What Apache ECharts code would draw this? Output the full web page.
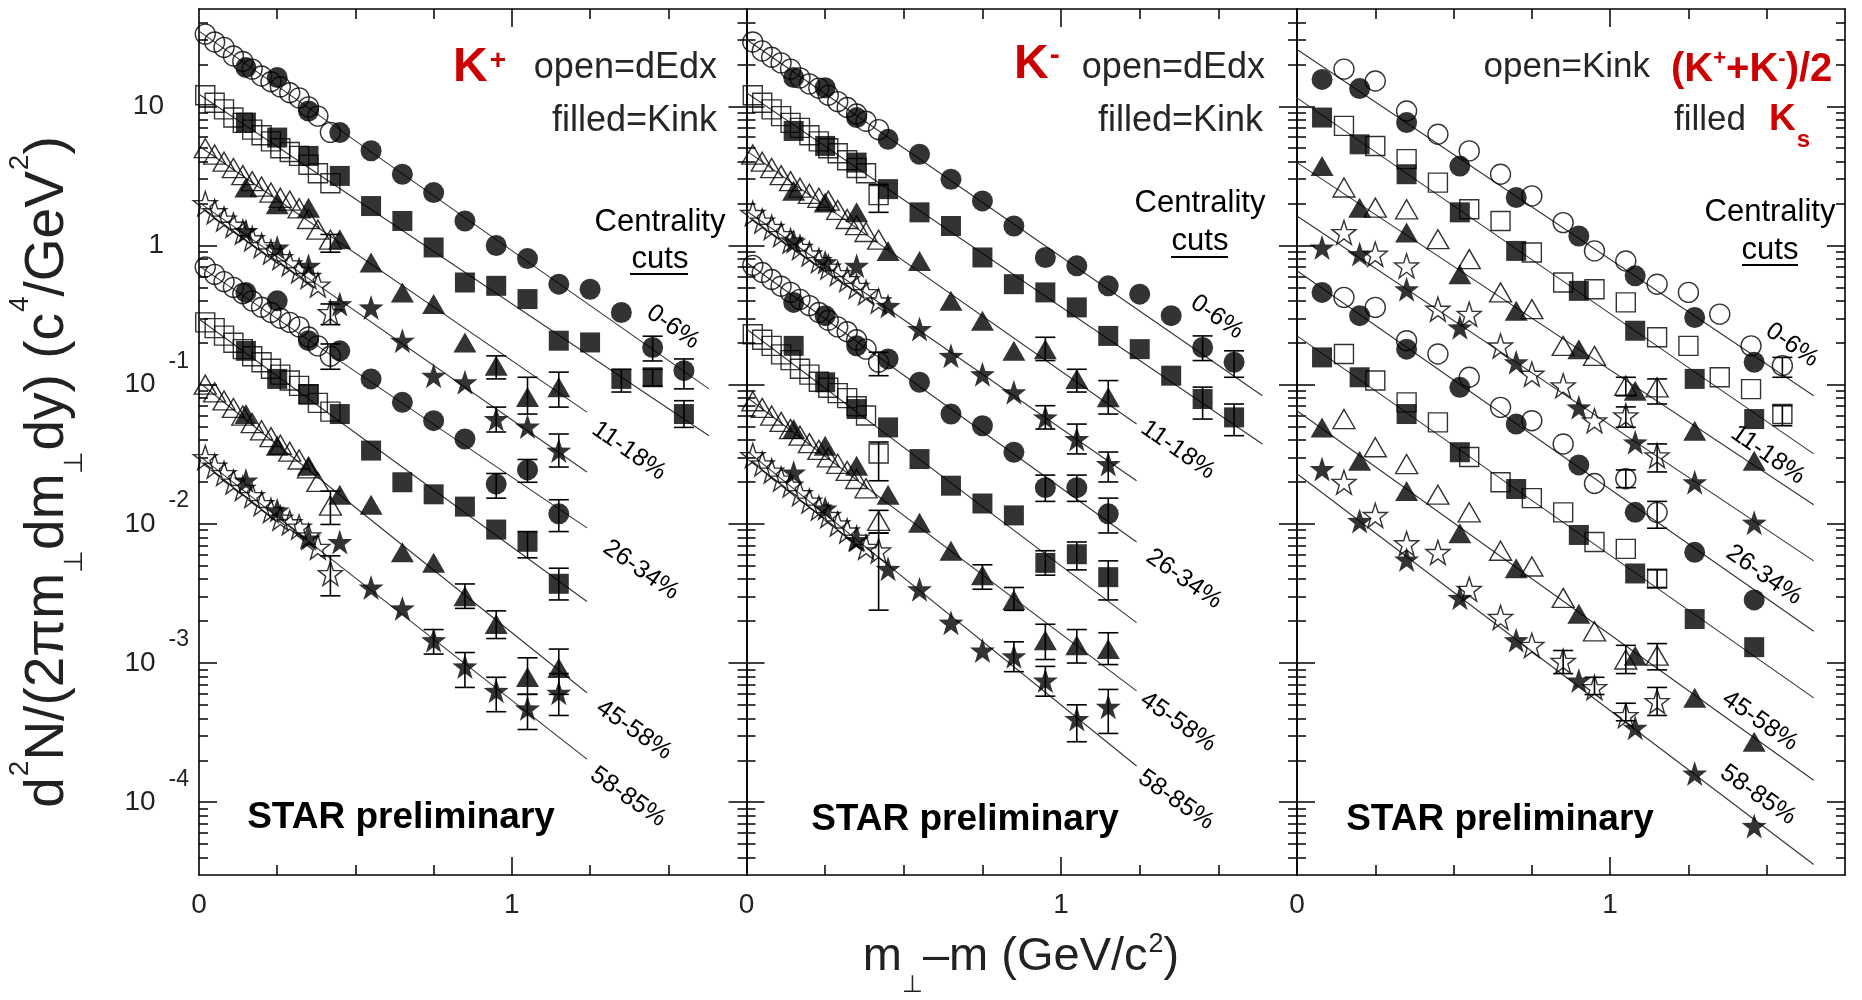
<!DOCTYPE html>
<html><head><meta charset="utf-8">
<script src="https://cdn.jsdelivr.net/npm/echarts@6/dist/echarts.min.js"></script>
<style>html,body{margin:0;padding:0;background:#fff}#c{width:1862px;height:1000px}</style>
</head><body><div id="c"></div><script>
// ---------- axis definitions ----------
const YMIN = 3e-5, YMAX = 50;
const Y_DECADES = [-4, -3, -2, -1, 0, 1];
const Y_LABEL_BASE = ['10', '10', '10', '10', '1', '10'];
const Y_LABEL_SUP = ['-4', '-3', '-2', '-1', '', ''];
const Y_MINOR_MULT = [2, 3, 4, 5, 6, 7, 8, 9];
const X_MINOR_TICKS = [0.25, 0.5, 0.75, 1.25, 1.5];
const X_MAJOR_TICKS = [1];
const X_LABELS = [0, 1];
const CENT_LABELS = ['0-6%', '11-18%', '26-34%', '45-58%', '58-85%'];

// ---------- x positions (GeV/c^2) ----------
const X_DEDX = [0.02, 0.05, 0.08, 0.11, 0.14, 0.17, 0.20, 0.23, 0.26, 0.29, 0.32, 0.35, 0.38, 0.42];
const X_KINK = [0.15, 0.25, 0.35, 0.45, 0.55, 0.65, 0.75, 0.85, 0.95, 1.05, 1.15, 1.25, 1.35, 1.45, 1.55];
const X_KS = [0.08, 0.20, 0.35, 0.52, 0.70, 0.90, 1.08, 1.27, 1.46];

// ---------- K+ panel ----------
const kplusDedx = [
 [33, 29, 26.5, 23, 21, 18.5, 16.5, 15, 13.8, 12.5, 11.5, 9.9, 8.5, 6.5],
 [12, 10.6, 9.5, 8.3, 7.6, 6.8, 6.2, 5.6, 5.0, 4.7, 4.4, 3.8, 3.3, 2.8],
 [5.0, 4.5, 4.0, 3.6, 3.2, 2.9, 2.65, 2.4, 2.2, 2.1, 1.85, 1.55, 1.3, 1.1],
 [2.0, 1.75, 1.55, 1.4, 1.25, 1.12, 1.0, 0.9, 0.82, 0.74, 0.66, 0.6, 0.52, 0.33],
 [0.70, 0.62, 0.55, 0.50, 0.45, 0.40, 0.36, 0.33, 0.30, 0.28, 0.26, 0.22, 0.19, 0.16],
 [0.28, 0.255, 0.225, 0.20, 0.18, 0.16, 0.145, 0.13, 0.118, 0.107, 0.098, 0.085, 0.074, 0.064],
 [0.10, 0.088, 0.077, 0.068, 0.060, 0.053, 0.047, 0.042, 0.037, 0.033, 0.029, 0.025, 0.020, 0.0135],
 [0.030, 0.026, 0.023, 0.020, 0.018, 0.016, 0.014, 0.0125, 0.011, 0.0102, 0.0095, 0.0082, 0.0068, 0.0044]
];
const kplusKink = [
 [19.0, 16.1, 9.25, 6.47, 4.79, 3.25, 2.40, 1.50, 1.00, 0.805, 0.527, 0.485, 0.330, 0.185, 0.126],
 [7.64, 5.96, 4.40, 3.16, 1.92, 1.50, 0.968, 0.542, 0.513, 0.412, 0.207, 0.201, 0.110, 0.113, 0.0615],
 [2.61, 1.98, 1.87, 1.11, 0.755, 0.460, 0.379, 0.201, 0.137, 0.0815, 0.0957],
 [1.27, 0.968, 0.714, 0.379, 0.359, 0.207, 0.116, 0.104, 0.0566, 0.050, 0.0336],
 [0.460, 0.400, 0.207, 0.175, 0.110, 0.0746, 0.0551, 0.0407, 0.0193, 0.0244, 0.0118],
 [0.175, 0.110, 0.0857, 0.0615, 0.0336, 0.0199, 0.0163, 0.0133, 0.0091, 0.00743, 0.00371],
 [0.0615, 0.0364, 0.0261, 0.0162, 0.0137, 0.00624, 0.00525, 0.00302, 0.00191, 0.000794, 0.00092],
 [0.0205, 0.0125, 0.00785, 0.00741, 0.00349, 0.00247, 0.00146, 0.000946, 0.000631, 0.000472, 0.000612]
];
const kplusFitStart = [34.7, 12.2, 5.19, 2.04, 0.714, 0.296, 0.104, 0.0309];
const kplusFitEndX = [1.63, 1.63, 1.24, 1.24, 1.24, 1.24, 1.24, 1.24];
const kplusFitEnd = [0.0933, 0.043, 0.0635, 0.0236, 0.00935, 0.00277, 0.000612, 0.000204];
const kplusErr = [
 [1.45, 0.148, 0.223], [1.55, 0.0933, 0.153],
 [1.35, 0.0885, 0.129], [1.45, 0.098, 0.129], [1.55, 0.0493, 0.0767],
 [0.95, 0.110, 0.161], [1.05, 0.0615, 0.113], [1.15, 0.069, 0.123],
 [0.95, 0.0457, 0.069], [1.15, 0.0256, 0.0442],
 [0.95, 0.0153, 0.023], [1.05, 0.0199, 0.029], [1.15, 0.0088, 0.0149],
 [1.05, 0.0057, 0.0088], [1.15, 0.00284, 0.0048],
 [0.85, 0.00247, 0.0037], [0.95, 0.0015, 0.00237], [1.05, 0.000596, 0.00109], [1.15, 0.000596, 0.00126],
 [0.75, 0.00116, 0.00174], [0.85, 0.000668, 0.00119], [0.95, 0.000447, 0.00079], [1.05, 0.000333, 0.000596], [1.15, 0.00042, 0.00084],
 [0.42, 0.895, 1.2], [0.42, 0.27, 0.38], [0.42, 0.129, 0.196], [0.42, 0.0099, 0.0172], [0.42, 0.00304, 0.00589]
];

// ---------- K- panel ----------
const kminusDedx = [
 [29, 25, 22.5, 20.5, 18.5, 16, 14.5, 13.5, 12, 10.8, 9.8, 8.8, 7.8, 6.8],
 [12, 10.6, 9.5, 8.5, 7.6, 7.0, 6.2, 5.6, 5.0, 4.6, 4.1, 3.6, 3.3, 2.3],
 [4.5, 4.0, 3.6, 3.2, 2.9, 2.6, 2.35, 2.2, 2.1, 1.8, 1.55, 1.4, 1.25, 1.1],
 [1.7, 1.5, 1.35, 1.2, 1.08, 0.97, 0.87, 0.78, 0.70, 0.63, 0.57, 0.51, 0.46, 0.40],
 [0.72, 0.64, 0.57, 0.51, 0.46, 0.41, 0.37, 0.33, 0.29, 0.26, 0.24, 0.21, 0.18, 0.145],
 [0.23, 0.21, 0.19, 0.165, 0.15, 0.13, 0.118, 0.105, 0.095, 0.087, 0.08, 0.07, 0.06, 0.032],
 [0.076, 0.068, 0.06, 0.054, 0.048, 0.043, 0.038, 0.034, 0.030, 0.027, 0.024, 0.021, 0.018, 0.0105],
 [0.031, 0.027, 0.024, 0.021, 0.019, 0.0165, 0.0146, 0.013, 0.0115, 0.010, 0.0089, 0.0079, 0.0068, 0.0064]
];
const kminusKink = [
 [16.1, 13.6, 8.30, 5.79, 4.52, 2.99, 2.09, 1.38, 0.820, 0.714, 0.513, 0.447, 0.313, 0.185, 0.145],
 [6.65, 5.19, 3.94, 2.54, 1.73, 1.38, 0.820, 0.527, 0.460, 0.359, 0.224, 0.180, 0.116, 0.0789, 0.0582],
 [2.47, 2.04, 1.73, 0.914, 0.774, 0.400, 0.288, 0.175, 0.180, 0.110, 0.0811],
 [1.07, 0.759, 0.714, 0.368, 0.251, 0.161, 0.119, 0.0881, 0.0582, 0.0407, 0.0269],
 [0.390, 0.313, 0.190, 0.153, 0.104, 0.0615, 0.0507, 0.0327, 0.0182, 0.0182, 0.0118],
 [0.190, 0.104, 0.0668, 0.0493, 0.0292, 0.0188, 0.0140, 0.0115, 0.00524, 0.00605, 0.00414],
 [0.048, 0.0364, 0.0261, 0.0162, 0.0102, 0.00641, 0.00428, 0.00284, 0.00146, 0.00134, 0.00126],
 [0.0234, 0.0129, 0.00766, 0.00475, 0.00339, 0.00195, 0.00123, 0.00112, 0.00075, 0.000396, 0.000485]
];
const kminusFitStart = [30.2, 12.5, 4.78, 1.77, 0.755, 0.251, 0.0815, 0.0336];
const kminusFitEndX = [1.64, 1.64, 1.24, 1.24, 1.24, 1.24, 1.24, 1.24];
const kminusFitEnd = [0.0832, 0.0375, 0.0521, 0.0204, 0.00741, 0.00195, 0.000631, 0.000182];
const kminusErr = [
 [1.45, 0.149, 0.224], [1.55, 0.113, 0.175],
 [1.45, 0.0566, 0.096], [1.55, 0.043, 0.0726],
 [0.95, 0.149, 0.219], [1.05, 0.0885, 0.129], [1.15, 0.0615, 0.107],
 [0.95, 0.048, 0.0706], [1.05, 0.0318, 0.0521], [1.15, 0.02, 0.0328],
 [0.95, 0.0145, 0.0224], [1.05, 0.0145, 0.0224], [1.15, 0.0086, 0.0153],
 [0.95, 0.00428, 0.00641], [1.05, 0.00467, 0.00741], [1.15, 0.00284, 0.00542],
 [0.75, 0.00339, 0.00508], [0.85, 0.00239, 0.00349], [0.95, 0.00106, 0.0019], [1.05, 0.001, 0.00174], [1.15, 0.000975, 0.00165],
 [0.85, 0.000867, 0.00142], [0.95, 0.000578, 0.000946], [1.05, 0.000272, 0.000501], [1.15, 0.000312, 0.000646],
 [0.42, 1.73, 2.75], [0.42, 0.116, 0.171], [0.42, 0.0204, 0.0387], [0.42, 0.00857, 0.0125], [0.42, 0.0024, 0.0086]
];

// ---------- (K+ + K-)/2 kink (open) and Ks (filled) panel ----------
const kavgKink = [
 [18.5, 15.2, 9.25, 6.30, 4.78, 3.25, 2.27, 1.46, 0.914, 0.774, 0.527, 0.460, 0.321, 0.190, 0.137],
 [7.23, 5.19, 4.17, 2.83, 1.82, 1.50, 0.891, 0.542, 0.485, 0.390, 0.219, 0.190, 0.113, 0.0929, 0.0615],
 [2.61, 1.87, 1.82, 1.11, 0.798, 0.460, 0.349, 0.190, 0.161, 0.0982, 0.0957],
 [1.24, 0.867, 0.714, 0.349, 0.321, 0.190, 0.119, 0.0982, 0.0551, 0.0598, 0.0309],
 [0.424, 0.359, 0.207, 0.166, 0.113, 0.0687, 0.0551, 0.0375, 0.0195, 0.0211, 0.0121],
 [0.166, 0.107, 0.0746, 0.0536, 0.0302, 0.0199, 0.0153, 0.0121, 0.00741, 0.00661, 0.00404],
 [0.0566, 0.0355, 0.0269, 0.0162, 0.0121, 0.00641, 0.00494, 0.00294, 0.00169, 0.00106, 0.00113],
 [0.0199, 0.0115, 0.00721, 0.00624, 0.00339, 0.00213, 0.00134, 0.00103, 0.000668, 0.00042, 0.00053]
];
const ksFilled = [
 [15.6, 13.4, 7.64, 3.72, 2.21, 1.17, 0.605, 0.304, 0.145],
 [8.30, 5.33, 3.25, 1.73, 0.914, 0.472, 0.244, 0.110, 0.0566],
 [3.72, 1.87, 1.24, 0.622, 0.340, 0.180, 0.0904, 0.0467, 0.0284],
 [0.968, 0.867, 0.485, 0.258, 0.145, 0.0687, 0.0385, 0.0199, 0.0102],
 [0.460, 0.313, 0.180, 0.0957, 0.0521, 0.0265, 0.0121, 0.00624, 0.00284],
 [0.157, 0.113, 0.0615, 0.0327, 0.0178, 0.00832, 0.00440, 0.00207, 0.0013],
 [0.0493, 0.0284, 0.0172, 0.00857, 0.0048, 0.00226, 0.00113, 0.000562, 0.000272],
 [0.0248, 0.0105, 0.00555, 0.00294, 0.00146, 0.00075, 0.000343, 0.000161, 0.0000676]
];
const kavgFitStart = [25.6, 11.5, 3.94, 1.63, 0.658, 0.224, 0.065, 0.0229];
const kavgFitEndX = [1.65, 1.65, 1.65, 1.65, 1.65, 1.65, 1.65, 1.65];
const kavgFitEnd = [0.0832, 0.0318, 0.0137, 0.00542, 0.00169, 0.000562, 0.000144, 0.0000357];
const kavgErr = [
 [1.55, 0.113, 0.157], [1.55, 0.0507, 0.0706],
 [1.05, 0.0832, 0.113], [1.15, 0.0726, 0.110],
 [1.05, 0.0495, 0.0692], [1.15, 0.0236, 0.0375],
 [1.05, 0.0182, 0.0244], [1.15, 0.0093, 0.0145],
 [1.15, 0.00349, 0.00467],
 [1.05, 0.00084, 0.00134], [1.15, 0.000893, 0.00138],
 [0.85, 0.00084, 0.00123], [0.95, 0.000594, 0.00079], [1.05, 0.000385, 0.000514], [1.15, 0.00042, 0.000668]
];

// ---------- styling ----------
const FONT = "'Liberation Sans', Arial, Helvetica, sans-serif";
const STAR = 'path://M50,3L61.2,36.5L96.6,36.8L68.2,57.9L78.8,91.6L50,71.2L21.2,91.6L31.8,57.9L3.4,36.8L38.8,36.5Z';
const SYMBOLS = ['circle', 'rect', 'triangle', STAR, 'circle', 'rect', 'triangle', STAR];
const SIZE_FILLED = [21, 20, [23, 20], 25, 21, 20, [23, 20], 25];
const SIZE_OPEN = [20, 19, [22, 19], 24, 20, 19, [22, 19], 24];
const GRIDS = [{left: 199, width: 547.5}, {left: 746.5, width: 550.5}, {left: 1297, width: 548}];
const GRID_TOP = 9, GRID_H = 866;

const LMIN = Math.log10(YMIN), LMAX = Math.log10(YMAX);
const Y_MINOR = [];
for (let n = -5; n <= 1; n++) Y_MINOR_MULT.forEach(m => { const v = n + Math.log10(m); if (v > LMIN && v < LMAX) Y_MINOR.push(v); });

const lineSt = {color: '#000', width: 1.6};
const tickSt = {color: '#000', width: 1.5};
const grid = [], xAxis = [], yAxis = [], series = [];

GRIDS.forEach((g, gi) => {
  grid.push({left: g.left, top: GRID_TOP, width: g.width, height: GRID_H, containLabel: false, outerBoundsMode: 'none'});
  const xb = {type: 'value', gridIndex: gi, min: 0, max: 1.75, splitLine: {show: false}, axisLabel: {show: false}};
  ['bottom', 'top'].forEach(pos => {
    xAxis.push(Object.assign({}, xb, {position: pos, axisLine: {show: true, onZero: false, lineStyle: lineSt},
      axisTick: {show: true, inside: true, length: 10, customValues: X_MINOR_TICKS, lineStyle: tickSt}}));
    xAxis.push(Object.assign({}, xb, {position: pos, axisLine: {show: false, onZero: false},
      axisTick: {show: true, inside: true, length: 18, customValues: X_MAJOR_TICKS, lineStyle: tickSt},
      axisLabel: pos === 'bottom' ? {show: true, customValues: X_LABELS, formatter: v => String(v), fontSize: 28,
        color: '#222', fontFamily: FONT, margin: 16} : {show: false}}));
  });
  yAxis.push({type: 'log', logBase: 10, gridIndex: gi, min: YMIN, max: YMAX, position: 'left', show: false,
    axisLine: {onZero: false}});
  const yb = {type: 'value', gridIndex: gi, min: LMIN, max: LMAX, splitLine: {show: false}, axisLabel: {show: false}};
  ['left', 'right'].forEach(pos => {
    yAxis.push(Object.assign({}, yb, {position: pos, axisLine: {show: true, onZero: false, lineStyle: lineSt},
      axisTick: {show: true, inside: true, length: 9, customValues: Y_MINOR, lineStyle: tickSt}}));
    const lab = (gi === 0 && pos === 'left') ? {
      show: true, customValues: Y_DECADES, margin: 10,
      formatter: v => { const i = Y_DECADES.indexOf(Math.round(v));
        return Y_LABEL_SUP[i] ? '{b|' + Y_LABEL_BASE[i] + '}{s|' + Y_LABEL_SUP[i] + '}' : '{p|' + Y_LABEL_BASE[i] + '}'; },
      rich: {
        b: {fontSize: 28, lineHeight: 69, fontFamily: FONT, color: '#222'},
        s: {fontSize: 23, lineHeight: 23, verticalAlign: 'top', padding: [0, 0, 0, 13], fontFamily: FONT, color: '#222'},
        p: {fontSize: 28, lineHeight: 69, padding: [0, 25, 0, 0], fontFamily: FONT, color: '#222'}
      }} : {show: false};
    yAxis.push(Object.assign({}, yb, {position: pos, axisLine: {show: false, onZero: false},
      axisTick: {show: true, inside: true, length: 18, customValues: Y_DECADES, lineStyle: tickSt}, axisLabel: lab}));
  });
});

function renderErr(params, api) {
  const x = api.value(0), lo = api.value(1), hi = api.value(2);
  const a = api.coord([x, hi]), b = api.coord([x, lo]);
  const w = 10, st = {stroke: '#000', lineWidth: 1.6};
  return {type: 'group', children: [
    {type: 'line', shape: {x1: a[0], y1: a[1], x2: b[0], y2: b[1]}, style: st},
    {type: 'line', shape: {x1: a[0] - w, y1: a[1], x2: a[0] + w, y2: a[1]}, style: st},
    {type: 'line', shape: {x1: b[0] - w, y1: b[1], x2: b[0] + w, y2: b[1]}, style: st}
  ]};
}

function addPanel(gi, openX, openData, fillX, fillData, fitStart, fitEndX, fitEnd, errData) {
  const xi = gi * 4, yi = gi * 5;
  for (let k = 0; k < 8; k++) {
    series.push({type: 'line', xAxisIndex: xi, yAxisIndex: yi, data: [[0, fitStart[k]], [fitEndX[k], fitEnd[k]]],
      symbol: 'none', lineStyle: {color: '#333', width: 1.1}, z: 1, silent: true});
    series.push({type: 'scatter', xAxisIndex: xi, yAxisIndex: yi, data: openData[k].map((v, i) => [openX[i], v]),
      symbol: SYMBOLS[k], symbolSize: SIZE_OPEN[k],
      itemStyle: {color: 'rgba(255,255,255,0)', borderColor: '#000', borderWidth: 1.4}, z: 3, silent: true});
    series.push({type: 'scatter', xAxisIndex: xi, yAxisIndex: yi, data: fillData[k].map((v, i) => [fillX[i], v]),
      symbol: SYMBOLS[k], symbolSize: SIZE_FILLED[k], itemStyle: {color: '#000'}, z: 4, silent: true});
  }
  series.push({type: 'custom', xAxisIndex: xi, yAxisIndex: yi, data: errData, renderItem: renderErr, z: 2, silent: true});
}
addPanel(0, X_DEDX, kplusDedx, X_KINK, kplusKink, kplusFitStart, kplusFitEndX, kplusFitEnd, kplusErr);
addPanel(1, X_DEDX, kminusDedx, X_KINK, kminusKink, kminusFitStart, kminusFitEndX, kminusFitEnd, kminusErr);
addPanel(2, X_KINK, kavgKink, X_KS, ksFilled, kavgFitStart, kavgFitEndX, kavgFitEnd, kavgErr);

// ---------- text ----------
const RED = '#cc0000';
function T(x, y, text, st, rot) {
  return {type: 'text', x: x, y: y, rotation: rot || 0, z: 100, silent: true,
    style: Object.assign({text: text, fill: '#262626', fontFamily: FONT, fontSize: 35, align: 'left', verticalAlign: 'middle'}, st)};
}
function U(x1, x2, y) {
  return {type: 'line', z: 100, silent: true, shape: {x1: x1, y1: y, x2: x2, y2: y}, style: {stroke: '#000', lineWidth: 2}};
}
const rs = (o) => Object.assign({fontFamily: FONT}, o);
const graphic = [];
// K+
graphic.push(T(453, 68, '{k|K}{s|+}', {rich: {
  k: rs({fontSize: 48, fontWeight: 'bold', fill: RED, lineHeight: 60}),
  s: rs({fontSize: 28, fontWeight: 'bold', fill: RED, lineHeight: 28, verticalAlign: 'top', padding: [9, 0, 0, 2]})}}));
graphic.push(T(717, 68, 'open=dEdx', {align: 'right', fontSize: 36}));
graphic.push(T(717, 121, 'filled=Kink', {align: 'right', fontSize: 36}));
// K-
graphic.push(T(1014, 65, '{k|K}{s|-}', {rich: {
  k: rs({fontSize: 48, fontWeight: 'bold', fill: RED, lineHeight: 60}),
  s: rs({fontSize: 30, fontWeight: 'bold', fill: RED, lineHeight: 30, verticalAlign: 'top', padding: [6, 0, 0, 1]})}}));
graphic.push(T(1265, 68, 'open=dEdx', {align: 'right', fontSize: 36}));
graphic.push(T(1263, 121, 'filled=Kink', {align: 'right', fontSize: 36}));
// panel 3
graphic.push(T(1650, 67, 'open=Kink', {align: 'right', fontSize: 35}));
graphic.push(T(1671, 70, '{b|(K}{s|+}{b|+K}{s|-}{b|)/2}', {rich: {
  b: rs({fontSize: 40, fontWeight: 'bold', fill: RED, lineHeight: 52}),
  s: rs({fontSize: 22, fontWeight: 'bold', fill: RED, lineHeight: 22, verticalAlign: 'top', padding: [4, 0, 0, 0]})}}));
graphic.push(T(1746, 120, 'filled', {align: 'right', fontSize: 35}));
graphic.push(T(1769, 120, '{b|K}{u|s}', {rich: {
  b: rs({fontSize: 37, fontWeight: 'bold', fill: RED, lineHeight: 46}),
  u: rs({fontSize: 24, fontWeight: 'bold', fill: RED, lineHeight: 24, verticalAlign: 'top', padding: [31, 0, 0, 1]})}}));
// Centrality cuts
[[660, 222, 259, 630, 688, 274], [1200, 203, 241, 1171, 1228, 257], [1770, 212, 250, 1742, 1798, 265]].forEach(c => {
  graphic.push(T(c[0], c[1], 'Centrality', {align: 'center', fontSize: 31, fill: '#000'}));
  graphic.push(T(c[0], c[2], 'cuts', {align: 'center', fontSize: 31, fill: '#000'}));
  graphic.push(U(c[3], c[4], c[5]));
});
// STAR preliminary
[[401, 818], [965, 820], [1500, 820]].forEach(p =>
  graphic.push(T(p[0], p[1], 'STAR preliminary', {align: 'center', fontSize: 37, fontWeight: 'bold', fill: '#000'})));
// rotated centrality labels
const CENT_POS = [
  [[673, 327], [629, 451], [641, 570], [634, 730], [628, 797]],
  [[1217, 317], [1178, 450], [1184, 579], [1178, 722], [1176, 800]],
  [[1792, 345], [1768, 455], [1764, 575], [1760, 721], [1758, 795]]
];
CENT_POS.forEach(panel => panel.forEach((p, i) =>
  graphic.push(T(p[0], p[1], CENT_LABELS[i], {align: 'center', fontSize: 25, fill: '#000'}, -35 * Math.PI / 180))));
// axis titles
graphic.push(T(1021, 957, '{n|m}{d|\u22A5}{n|\u2013m (GeV/c}{u|2}{n|)}', {align: 'center', rich: {
  n: rs({fontSize: 47, lineHeight: 104, fill: '#222'}),
  u: rs({fontSize: 27, lineHeight: 27, verticalAlign: 'top', padding: [26, 0, 0, 1], fill: '#222'}),
  d: rs({fontSize: 24, lineHeight: 24, verticalAlign: 'top', padding: [68, 0, 0, 0], fill: '#222'})}}));
graphic.push(T(48, 472, '{n|d}{u|2}{n|N/(2\u03C0m}{d|\u22A5}{n|dm}{d|\u22A5}{n|dy) (c}{u|4}{n|/GeV}{u|2}{n|)}', {align: 'center', rich: {
  n: rs({fontSize: 55, lineHeight: 110, fill: '#222'}),
  u: rs({fontSize: 28, lineHeight: 28, verticalAlign: 'top', padding: [13, 0, 0, 1], fill: '#222'}),
  d: rs({fontSize: 26, lineHeight: 26, verticalAlign: 'top', padding: [69, 0, 0, 0], fill: '#222'})}}, Math.PI / 2));

const chart = echarts.init(document.getElementById('c'), null, {renderer: 'canvas', width: 1862, height: 1000});
chart.setOption({backgroundColor: '#fff', animation: false, grid: grid, xAxis: xAxis, yAxis: yAxis, series: series, graphic: graphic});
</script></body></html>
